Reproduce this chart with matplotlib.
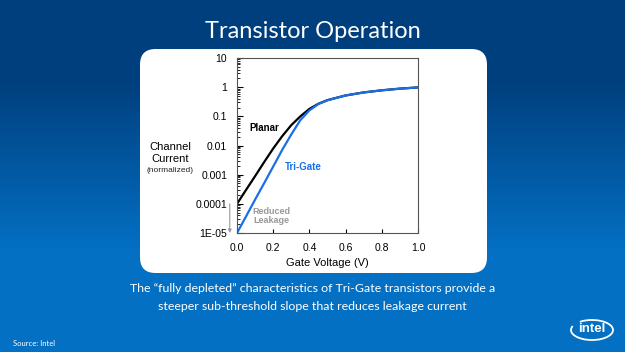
import numpy as np
import matplotlib.pyplot as plt
from matplotlib.patches import FancyBboxPatch, Arc

voltage = [0.0, 0.05, 0.1, 0.15, 0.2, 0.25, 0.3, 0.35, 0.4, 0.45, 0.5, 0.6, 0.7, 0.8, 0.9, 1.0]
planar = [1e-4, 3.0e-4, 8.9e-4, 2.7e-3, 7.9e-3, 2.1e-2, 5.0e-2, 0.10, 0.18, 0.27, 0.36, 0.52, 0.66, 0.78, 0.89, 0.98]
trigate = [1e-5, 3.7e-5, 1.4e-4, 5.1e-4, 1.9e-3, 7.1e-3, 2.4e-2, 7.4e-2, 0.16, 0.265, 0.355, 0.52, 0.66, 0.78, 0.89, 0.98]
ytick_vals = [1e-5, 1e-4, 1e-3, 1e-2, 1e-1, 1, 10]
ytick_labels = ["1E-05", "0.0001", "0.001", "0.01", "0.1", "1", "10"]
xtick_vals = [0.0, 0.2, 0.4, 0.6, 0.8, 1.0]

W, H = 625, 352
fig = plt.figure(figsize=(W / 100, H / 100), dpi=100)

# background gradient
bg = fig.add_axes([0, 0, 1, 1])
bg.set_axis_off()
rows = np.arange(H)
t = np.clip((rows - 80) / 170, 0, 1)[:, None]
top = np.array([0, 63, 125]) / 255
bot = np.array([4, 112, 196]) / 255
img = top + (bot - top) * t
img = np.repeat(img[:, None, :], 2, axis=1)
bg.imshow(img, aspect="auto", extent=[0, 1, 0, 1], origin="upper")
bg.set_xlim(0, 1)
bg.set_ylim(0, 1)

# white rounded box
box = FancyBboxPatch((140 / W, 1 - 273 / H), 347 / W, 224 / H,
                     boxstyle="round,pad=0,rounding_size=0.025",
                     transform=bg.transAxes, fc="white", ec="none",
                     mutation_aspect=W / H)
bg.add_patch(box)

fig.text(0.5, 1 - 32 / H, "Transistor Operation", color="white", fontsize=17,
         ha="center", va="center", family="Lato")
fig.text(0.5, 1 - 288 / H,
         "The \u201cfully depleted\u201d characteristics of Tri-Gate transistors provide a",
         color="white", fontsize=8.9, ha="center", va="center", family="Lato")
fig.text(0.5, 1 - 306 / H,
         "steeper sub-threshold slope that reduces leakage current",
         color="white", fontsize=8.9, ha="center", va="center", family="Lato")
fig.text(13 / W, 1 - 343 / H, "Source: Intel", color="white", fontsize=5.5,
         ha="left", va="center", family="Lato")

# intel logo
fig.text(592 / W, 1 - 329 / H, "intel", color="white", fontsize=9.5,
         fontweight="bold", ha="center", va="center", family="Liberation Sans")
bg.add_patch(Arc((592 / W, 1 - 330 / H), 42 / W, 20 / H, theta1=-200, theta2=130,
                 color="white", lw=1.3, transform=bg.transAxes))

# channel current label
fig.text(170 / W, 1 - 153 / H, "Channel\nCurrent", fontsize=8, ha="center",
         va="center", family="Liberation Sans", linespacing=1.15)
fig.text(170 / W, 1 - 171 / H, "(normalized)", fontsize=6, ha="center",
         va="center", family="Liberation Sans", color="#222222")

ax = fig.add_axes([237 / W, 1 - 233 / H, 181 / W, 175 / H])
ax.plot(voltage, planar, color="black", lw=1.6)
ax.plot(voltage, trigate, color="#1a6fe6", lw=1.6)
ax.set_yscale("log")
ax.set_xlim(0, 1)
ax.set_ylim(1e-5, 10)
ax.set_yticks(ytick_vals)
ax.set_yticklabels(ytick_labels)
ax.set_xticks(xtick_vals)
ax.set_xticklabels([f"{v:.1f}" for v in xtick_vals])
ax.tick_params(axis="both", which="both", direction="in", labelsize=7.5,
               top=False, right=False)
ax.tick_params(axis="y", which="major", length=4, pad=7)
ax.tick_params(axis="y", which="minor", length=2)
ax.tick_params(axis="x", length=3, pad=7)
for lbl in ax.get_xticklabels() + ax.get_yticklabels():
    lbl.set_family("Liberation Sans")
for s in ax.spines.values():
    s.set_color("#555555")
    s.set_linewidth(0.8)
ax.set_xlabel("Gate Voltage (V)", fontsize=8, family="Liberation Sans", labelpad=4)

ax.text(0.07, 0.04, "Planar", fontsize=7, fontweight="bold", va="center",
        family="Liberation Sans")
ax.text(0.265, 0.0019, "Tri-Gate", fontsize=7, fontweight="bold", va="center",
        color="#1a6fe6", family="Liberation Sans")
ax.text(0.19, 3.8e-5, "Reduced\nLeakage", fontsize=6.5, fontweight="bold",
        ha="center", va="center", color="#999999", family="Liberation Sans",
        linespacing=1.1)
ax.annotate("", xy=(-0.04, 1e-5), xytext=(-0.04, 1e-4), annotation_clip=False,
            arrowprops=dict(arrowstyle="-|>", color="#999999", lw=0.8,
                            mutation_scale=5, shrinkA=0, shrinkB=0))

fig.savefig("out.png", dpi=100)
